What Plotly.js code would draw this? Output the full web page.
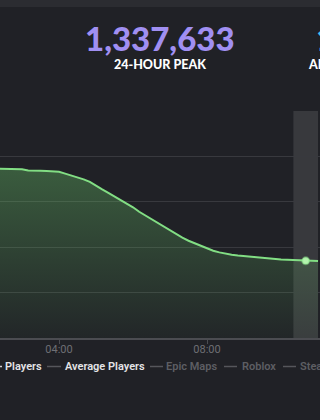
<!DOCTYPE html>
<html>
<head>
<meta charset="utf-8">
<script src="https://cdn.plot.ly/plotly-3.0.1.min.js"></script>
<style>
  html, body { margin: 0; padding: 0; background: #202126; }
  #chart { width: 320px; height: 420px; }
</style>
</head>
<body>
<div id="chart"></div>
<script>
// ---- data ----
const day = '2024-05-20 ';
const timeLabels = ['02:20','02:30','02:40','02:50','03:00','03:10','03:20','03:30','03:40','03:50',
  '04:00','04:10','04:20','04:30','04:40','04:50','05:00','05:10','05:20','05:30',
  '05:40','05:50','06:00','06:10','06:20','06:30','06:40','06:50','07:00','07:10',
  '07:20','07:30','07:40','07:50','08:00','08:10','08:20','08:30','08:40','08:50',
  '09:00','09:10','09:20','09:30','09:40','09:50','10:00','10:10','10:20','10:30',
  '10:40','10:50','11:00'];
const players = [932418, 931276, 930152, 930804, 929671, 922043, 923117, 920885, 919762, 917590,
  915381, 905022, 895640, 884571, 873612, 859934, 837905, 818713, 799482, 779126,
  760987, 740143, 719802, 695011, 674236, 653817, 631905, 612684, 593411, 572530,
  552218, 535704, 520896, 508231, 494517, 480763, 471402, 463725, 458190, 453844,
  450512, 446703, 442918, 439571, 436284, 434106, 432411, 430779, 429132, 427518,
  424705, 424166, 423598];
const hoverTime = '10:40';
const peakLabel = '1,337,633';
const peakCaption = '24-HOUR PEAK';
const allTimeLabel = '14,294,525';
const allTimeCaption = 'ALL-TIME PEAK';
const legendNames = ['Players', 'Average Players', 'Epic Maps', 'Roblox', 'Steam'];
const legendActive = [true, true, false, false, false];
const yTicks = [0, 250000, 500000, 750000, 1000000, 1250000];

// ---- build ----
const x = timeLabels.map(t => day + t);
const hi = timeLabels.indexOf(hoverTime);

// pixel helpers for layout-only items (plot area: x 0..320, y 110..338)
const W = 320, T = 110, B = 338;
const px = v => v / W;
const py = v => (B - v) / (B - T);

const traces = [
  {
    x: x, y: players, type: 'scatter', mode: 'lines',
    line: { color: '#82de84', width: 2, shape: 'linear' },
    fill: 'tozeroy',
    fillgradient: {
      type: 'vertical', start: 0, stop: 950000,
      colorscale: [[0, 'rgba(110,210,110,0.03)'], [1, 'rgba(110,210,110,0.34)']]
    },
    hoverinfo: 'skip', showlegend: false
  },
  {
    x: [x[hi]], y: [players[hi]], type: 'scatter', mode: 'markers',
    marker: { size: 7, color: '#b4f2ae', line: { width: 2, color: 'rgba(140,230,140,0.45)' } },
    hoverinfo: 'skip', showlegend: false
  }
];

const annotations = [
  { text: peakLabel, xref: 'paper', yref: 'paper', x: 0.5, y: py(37.5), xanchor: 'center', yanchor: 'middle',
    showarrow: false, font: { family: 'Lato', size: 33, weight: 900, color: '#a08ff2' } },
  { text: peakCaption, xref: 'paper', yref: 'paper', x: 0.5, y: py(65), xanchor: 'center', yanchor: 'middle',
    showarrow: false, font: { family: 'Lato', size: 12.5, weight: 900, color: '#ffffff' } },
  { text: allTimeLabel, xref: 'paper', yref: 'paper', x: px(316), y: py(37.5), xanchor: 'left', yanchor: 'middle',
    showarrow: false, borderpad: 0, borderwidth: 0, font: { family: 'Lato', size: 33, weight: 900, color: '#3fc3ee' } },
  { text: allTimeCaption, xref: 'paper', yref: 'paper', x: px(308), y: py(65), xanchor: 'left', yanchor: 'middle',
    showarrow: false, borderpad: 0, borderwidth: 0, font: { family: 'Lato', size: 12.5, weight: 900, color: '#ffffff' } }
];

const legendTextX = [5, 65, 166, 242, 300];
const legendDashX = [[-12, 2], [47, 61], [150, 163], [224, 237], [283, 296]];
const shapes = [
  // top strip
  { type: 'rect', xref: 'paper', yref: 'paper', x0: -0.1, x1: 1.1, y0: py(7), y1: py(-10),
    fillcolor: '#2b2c31', line: { width: 0 }, layer: 'below' },
  // hover band
  { type: 'rect', xref: 'x', yref: 'paper', x0: x[hi - 2], x1: x[hi + 2], y0: 0, y1: py(111),
    fillcolor: 'rgba(255,255,255,0.11)', line: { width: 0 }, layer: 'below' }
];
legendNames.forEach((name, i) => {
  annotations.push({
    text: name, xref: 'paper', yref: 'paper', x: px(legendTextX[i]), y: py(366), xanchor: 'left', yanchor: 'middle',
    showarrow: false, borderpad: 0, borderwidth: 0,
    font: { family: 'Roboto', size: 11, weight: 600, color: legendActive[i] ? '#e4e4e6' : '#5d5e63' }
  });
  shapes.push({
    type: 'line', xref: 'paper', yref: 'paper', x0: px(legendDashX[i][0]), x1: px(legendDashX[i][1]),
    y0: py(366.5), y1: py(366.5),
    line: { width: 1.5, color: i === 0 ? '#cfd0d2' : '#55565b' }
  });
});

const layout = {
  width: 320, height: 420,
  margin: { l: 0, r: 0, t: T, b: 420 - B, pad: 0 },
  paper_bgcolor: '#202126', plot_bgcolor: '#202126',
  showlegend: false,
  xaxis: {
    type: 'date',
    range: [day + '02:24:20', day + '11:03:10'],
    tick0: day + '00:00', dtick: 4 * 3600 * 1000, tickformat: '%H:%M',
    showgrid: false, zeroline: false,
    showline: true, linecolor: '#4b4c51', linewidth: 1.5,
    ticks: 'outside', ticklen: 4, tickcolor: '#4b4c51', tickwidth: 1,
    ticklabelstandoff: -4,
    tickfont: { family: 'Roboto', size: 11, color: '#6e6f74' },
    fixedrange: true
  },
  yaxis: {
    range: [0, 1250000 * 228 / 227], tickvals: yTicks, showticklabels: false,
    showgrid: true, gridcolor: '#38393e', gridwidth: 1, zeroline: false,
    fixedrange: true
  },
  annotations: annotations,
  shapes: shapes,
  hovermode: false
};

Plotly.newPlot('chart', traces, layout, { displayModeBar: false, staticPlot: true });
</script>
</body>
</html>
